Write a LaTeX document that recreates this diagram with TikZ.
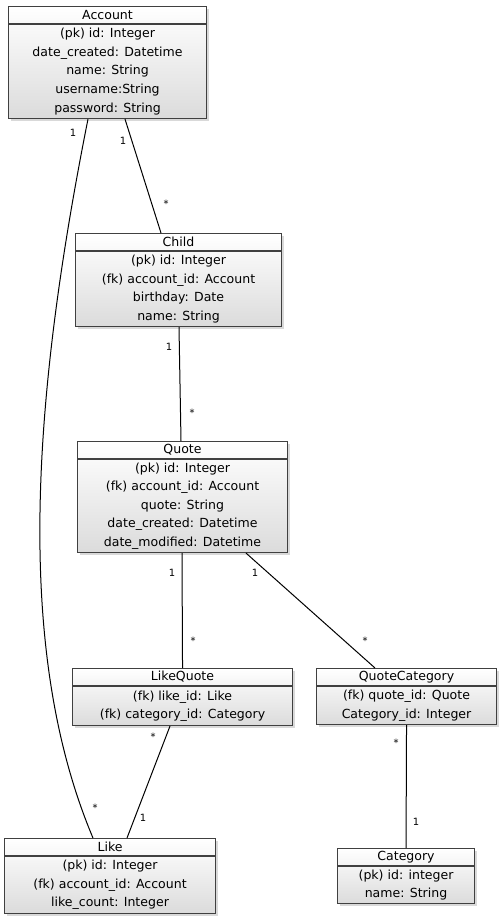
\documentclass[tikz,border=0pt]{standalone}
\usepackage{fontspec}
\setmainfont{DejaVu Sans}
\usetikzlibrary{calc,positioning,shadows}

\tikzset{
	entity/.style={draw=black!75, line width=0.8pt, top color=white, bottom color=black!14,
		drop shadow={shadow xshift=2pt, shadow yshift=-2pt, opacity=0.25, fill=black!60},
		anchor=north west, inner sep=0pt},
	boxline/.style={draw=black!75, line width=0.8pt},
	header/.style={inner sep=0pt, font=\fontsize{9.4}{13.9}\selectfont},
	fields/.style={inner sep=0pt, align=center, font=\fontsize{9.4}{13.9}\selectfont},
	link/.style={draw=black, line width=0.75pt},
	mult/.style={inner sep=0pt, font=\fontsize{7.5}{8}\selectfont}
}
\def\entitybox(#1)(#2,#3)(#4,#5)#6#7{%
	\node[entity, minimum width=#4*0.75pt, minimum height=#5*0.75pt] (#1) at (#2,#3) {};
	\draw[boxline] ($(#1.north west)+(0,18)$) -- ($(#1.north east)+(0,18)$);
	\node[header] (#1-name) at ($(#1.north)+(0,9)$) {#6};
	\node[fields] (#1-fields) at ($(#1.south)!0.5!(#1.north)+(0,9)$) {#7};
}

\begin{document}
\begin{tikzpicture}[x=0.75pt, y=-0.75pt]
		%%%%% START %%%%%
		\useasboundingbox (0,0) rectangle (501,920);
		
		\entitybox(account)(8,6)(198,112){Account}{(pk) id: Integer\\date\_created: Datetime\\name: String\\username:String\\password: String}
		\entitybox(child)(75,233)(206,93){Child}{(pk) id: Integer\\(fk) account\_id: Account\\birthday: Date\\name: String}
		\entitybox(quote)(77,441)(210,111){Quote}{(pk) id: Integer\\(fk) account\_id: Account\\quote: String\\date\_created: Datetime\\date\_modified: Datetime}
		\entitybox(likequote)(72,668)(220,57){LikeQuote}{(fk) like\_id: Like\\(fk) category\_id: Category}
		\entitybox(quotecat)(316,668)(180,56){QuoteCategory}{(fk) quote\_id: Quote\\Category\_id: Integer}
		\entitybox(like)(4,838)(211,75){Like}{(pk) id: Integer\\(fk) account\_id: Account\\like\_count: Integer}
		\entitybox(category)(337,848)(137,55){Category}{(pk) id: integer\\name: String}
		
		% relations
		\draw[link] ($(account.south west)+(117,0)$) -- ($(child.north west)+(86,0)$);
		\draw[link] ($(account.south west)+(80,0)$) .. controls (28,420) and (18,660) .. ($(like.north west)+(89,0)$);
		\draw[link] ($(child.south west)+(104,0)$) -- ($(quote.north west)+(104,0)$);
		\draw[link] ($(quote.south west)+(105,0)$) -- (likequote.north);
		\draw[link] ($(quote.south west)+(169,0)$) -- ($(quotecat.north west)+(59,0)$);
		\draw[link] ($(likequote.south west)+(98,0)$) -- ($(like.north west)+(123,0)$);
		\draw[link] (quotecat.south) -- (category.north);
		
		% multiplicities
		\node[mult] (m-ac1) at (123,141) {1};
		\node[mult] (m-ac2) at (166,204) {*};
		\node[mult] (m-al1) at (73,133) {1};
		\node[mult] (m-al2) at (95,808) {*};
		\node[mult] (m-cq1) at (169,347) {1};
		\node[mult] (m-cq2) at (192,413) {*};
		\node[mult] (m-ql1) at (172,573) {1};
		\node[mult] (m-ql2) at (193,641) {*};
		\node[mult] (m-qc1) at (255,573) {1};
		\node[mult] (m-qc2) at (365,641) {*};
		\node[mult] (m-ll1) at (153,737) {*};
		\node[mult] (m-ll2) at (143,818) {1};
		\node[mult] (m-cc1) at (396,743) {*};
		\node[mult] (m-cc2) at (416,822) {1};
		
		%%%%% END %%%%%
\end{tikzpicture}
\end{document}
